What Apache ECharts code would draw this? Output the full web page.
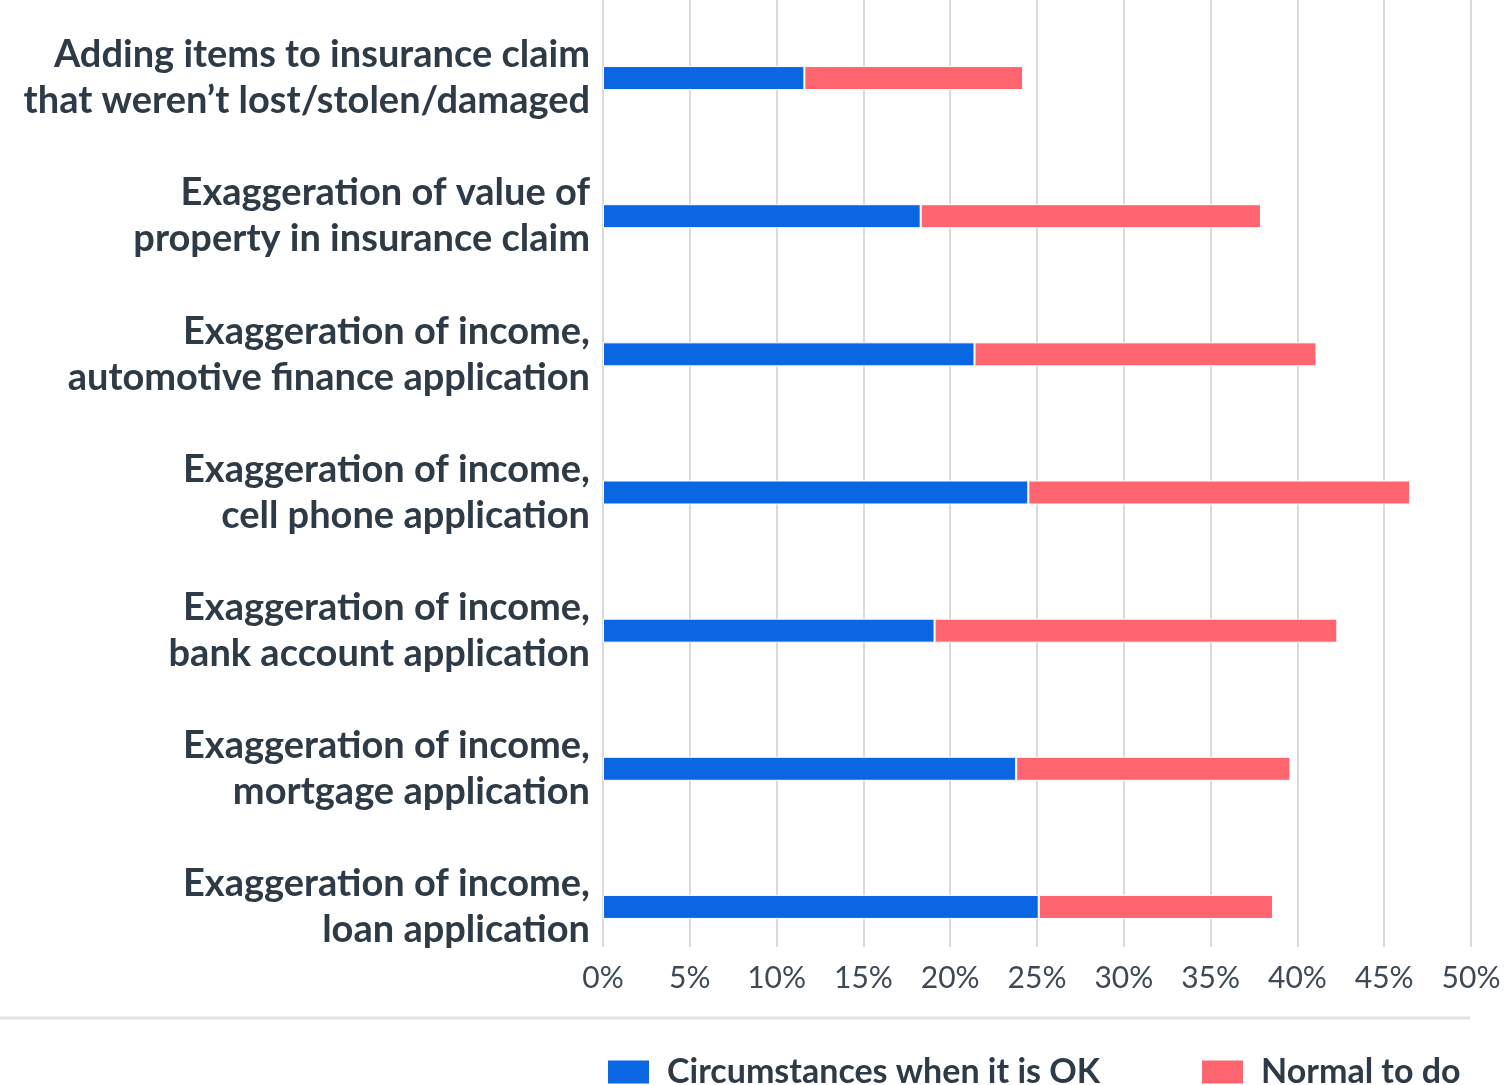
<!DOCTYPE html>
<html><head><meta charset="utf-8">
<script src="https://cdn.jsdelivr.net/npm/echarts@6/dist/echarts.min.js"></script>
<style>html,body{margin:0;padding:0;background:#fff}#c{width:1509px;height:1085px}</style>
</head><body><div id="c"></div>
<script>
const categories = [
  "Adding items to insurance claim\nthat weren\u2019t lost/stolen/damaged",
  "Exaggeration of value of\nproperty in insurance claim",
  "Exaggeration of income,\nautomotive finance application",
  "Exaggeration of income,\ncell phone application",
  "Exaggeration of income,\nbank account application",
  "Exaggeration of income,\nmortgage application",
  "Exaggeration of income,\nloan application"
];
const okValues = [11.6, 18.3, 21.4, 24.5, 19.1, 23.8, 25.1];
const normalValues = [12.6, 19.6, 19.7, 22.0, 23.2, 15.8, 13.5];
const seriesNames = ["Circumstances when it is OK", "Normal to do"];

const font = "Lato, 'Noto Sans', sans-serif";
const chart = echarts.init(document.getElementById('c'));
chart.setOption({
  animation: false,
  backgroundColor: '#fff',
  grid: [
    {left: 603, right: 38, top: 9, height: 967},
    {left: 603, right: 38, top: 0, height: 947}
  ],
  xAxis: [
    {gridIndex: 0, type: 'value', min: 0, max: 50, interval: 5, show: false, splitLine: {show: false}},
    {gridIndex: 1, type: 'value', min: 0, max: 50, interval: 5,
     axisLine: {show: false}, axisTick: {show: false},
     splitLine: {show: true, lineStyle: {color: '#dadada', width: 2}},
     axisLabel: {formatter: '{value}%', margin: 16, color: '#3d4955', fontSize: 30, fontFamily: font}}
  ],
  yAxis: [
    {gridIndex: 0, type: 'category', data: categories, inverse: true,
     axisLine: {show: false}, axisTick: {show: false},
     axisLabel: {margin: 13, color: '#2e3b47', fontSize: 38, fontWeight: 'bold', lineHeight: 46, fontFamily: font, align: 'right'}},
    {gridIndex: 1, type: 'category', data: categories, show: false}
  ],
  legend: {
    top: 1050, left: 601, itemWidth: 43, itemHeight: 25, itemGap: 100,
    icon: 'rect',
    textStyle: {color: '#2e3b47', fontSize: 34, fontWeight: 'bold', fontFamily: font, padding: [0,0,0,12]},
    data: seriesNames
  },
  graphic: [{type: 'line', shape: {x1: 0, y1: 1018, x2: 1470, y2: 1018}, style: {stroke: '#e2e2e2', lineWidth: 3}}],
  series: [
    {name: seriesNames[0], type: 'bar', stack: 's', data: okValues, barWidth: 24,
     itemStyle: {color: '#0b66e4', borderColor: '#fff', borderWidth: 1}},
    {name: seriesNames[1], type: 'bar', stack: 's', data: normalValues, barWidth: 24,
     itemStyle: {color: '#fe656e', borderColor: '#fff', borderWidth: 1}}
  ]
});
</script></body></html>
